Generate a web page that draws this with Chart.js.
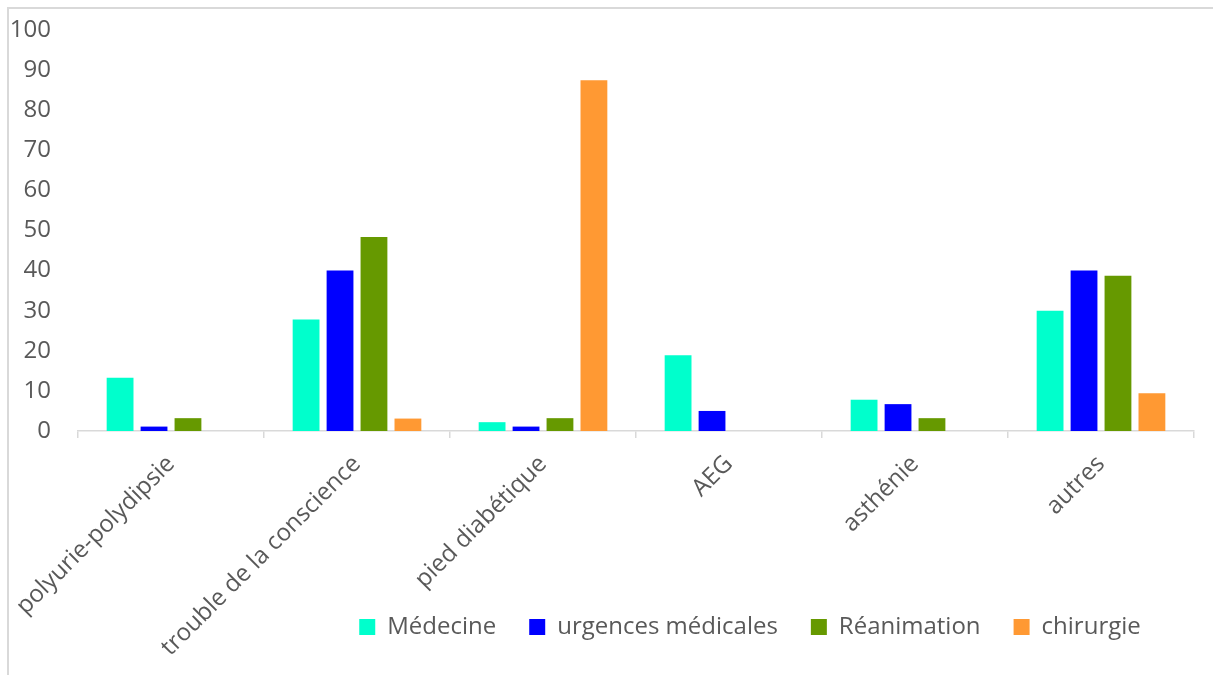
<!DOCTYPE html>
<html>
<head>
<meta charset="utf-8">
<script src="https://cdn.jsdelivr.net/npm/chart.js@4.4.1/dist/chart.umd.min.js"></script>
<style>
  html, body { margin: 0; padding: 0; background: #ffffff; }
  #wrap { position: relative; width: 1213px; height: 675px; overflow: hidden; }
  #frame { position: absolute; left: 7px; top: 7px; width: 1220px; height: 680px;
           border-left: 2px solid #d9d9d9; border-top: 2px solid #d9d9d9; box-sizing: border-box; }
  canvas { position: absolute; left: 0; top: 0; }
</style>
</head>
<body>
<div id="wrap">
  <div id="frame"></div>
  <canvas id="chart" width="1213" height="675"></canvas>
</div>
<script>
// Motifs d'hospitalisation par service (%)
const categories = ["polyurie-polydipsie", "trouble de la conscience", "pied diabétique", "AEG", "asthénie", "autres"];
const medecine    = [13.3, 27.8, 2.2, 18.9, 7.8, 30.0];
const urgences    = [1.1, 40.0, 1.1, 5.0, 6.7, 40.0];
const reanimation = [3.2, 48.4, 3.2, 0, 3.2, 38.7];
const chirurgie   = [0, 3.1, 87.5, 0, 0, 9.4];
const yTicks = [0, 10, 20, 30, 40, 50, 60, 70, 80, 90, 100];

const FONT = "'Open Sans', 'Noto Sans', sans-serif";
const TEXT = "#595959";
const PLOT_BOTTOM = 431;      // pixel row of the x axis line
const LEGEND_CENTER_X = 750;  // legend row is centred here
const LEGEND_CENTER_Y = 627;

// Places the legend row over the lower right part of the canvas,
// beside the slanted category labels, and lets the x axis box run
// down to the bottom edge so the long labels are not cut.
const legendPlacement = {
  id: "legendPlacement",
  afterLayout(chart) {
    const lg = chart.legend;
    if (lg) {
      const dx = LEGEND_CENTER_X - (lg.left + lg.right) / 2;
      lg.left += dx; lg.right += dx;
      const pad = lg.options.labels.padding;
      const size = lg.options.labels.font.size;
      const newTop = LEGEND_CENTER_Y - pad - size / 2;
      const dy = newTop - lg.top;
      lg.top += dy; lg.bottom += dy;
    }
    const xs = chart.scales.x;
    xs.bottom = chart.height;
    xs.height = xs.bottom - xs.top;
  }
};

const ctx = document.getElementById("chart").getContext("2d");
new Chart(ctx, {
  type: "bar",
  data: {
    labels: categories,
    datasets: [
      { label: "Médecine", data: medecine, backgroundColor: "#00ffcc" },
      { label: "urgences médicales", data: urgences, backgroundColor: "#0000ff" },
      { label: "Réanimation", data: reanimation, backgroundColor: "#669900" },
      { label: "chirurgie", data: chirurgie, backgroundColor: "#ff9933" }
    ]
  },
  plugins: [legendPlacement],
  options: {
    responsive: false,
    animation: false,
    devicePixelRatio: 1,
    layout: { padding: { left: 0, right: 19, top: 30, bottom: 0 } },
    datasets: { bar: { categoryPercentage: 0.73, barPercentage: 0.79 } },
    plugins: {
      legend: {
        position: "bottom",
        labels: {
          font: { family: FONT, size: 24 },
          color: TEXT,
          boxWidth: 16,
          boxHeight: 16,
          padding: 33
        }
      },
      tooltip: { enabled: false }
    },
    scales: {
      x: {
        offset: true,
        grid: { display: true, drawOnChartArea: false, drawTicks: true, tickLength: 7, color: "#d9d9d9", lineWidth: 1.5, offset: true },
        border: { display: true, color: "#d9d9d9", width: 1.5 },
        ticks: {
          font: { family: FONT, size: 24 },
          color: TEXT,
          minRotation: 45,
          maxRotation: 45,
          autoSkip: false,
          padding: 12
        },
        afterFit: (s) => {
          const lgH = s.chart.legend ? s.chart.legend.height : 0;
          s.height = s.chart.height - PLOT_BOTTOM - lgH;
          s.paddingLeft = 0;
          s.paddingRight = 0;
        }
      },
      y: {
        min: 0,
        max: 100,
        afterBuildTicks: (s) => { s.ticks = yTicks.map(v => ({ value: v })); },
        grid: { display: false, drawTicks: false },
        border: { display: false },
        ticks: {
          font: { family: FONT, size: 24 },
          color: TEXT,
          padding: 27
        },
        afterFit: (s) => {
          s.width = 78;
          s.paddingTop = 0;
          s.paddingBottom = 0;
        }
      }
    }
  }
});
</script>
</body>
</html>
